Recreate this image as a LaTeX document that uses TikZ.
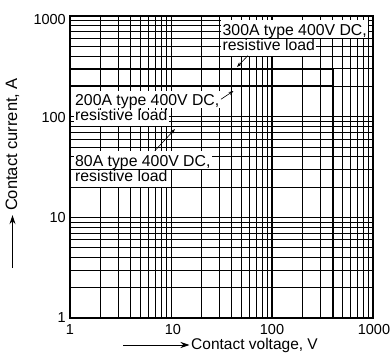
\documentclass[tikz,border=0pt]{standalone}
\usepackage{fontspec}
\setmainfont{Liberation Sans}
\usetikzlibrary{arrows.meta}

\begin{document}
\begin{tikzpicture}[x=1pt,y=-1pt,
    gridline/.style={line width=0.7pt},
    heavy/.style={line width=1.8pt},
    curve/.style={line width=1.8pt},
    tag/.style={fill=white,anchor=base west,inner xsep=1.5pt,inner ysep=1.5pt,font=\fontsize{15.8}{15.8}\selectfont},
    tagtop/.style={tag,text height=14pt,text depth=0.5pt},
    tagbot/.style={tag,text height=10pt,text depth=3.5pt},
    tick/.style={inner sep=0pt,font=\fontsize{14.5}{14.5}\selectfont},
    axlabel/.style={inner sep=0pt},
    lead/.style={-{Stealth[length=5pt,width=3.5pt]},line width=0.6pt},
    axarrow/.style={-{Stealth[length=9pt,width=6pt]},line width=0.9pt}]

  \useasboundingbox (0,0) rectangle (392,356);

  % log grid, one decade = 101pt
  \begin{scope}[shift={(70,318)},x=101pt,y=100.67pt]
    \foreach \d in {0,1,2}
      \foreach \m in {1,...,9} {
        \draw[gridline] ({\d+log10(\m)},0) -- ({\d+log10(\m)},3);
        \draw[gridline] (0,{\d+log10(\m)}) -- (3,{\d+log10(\m)});
      }
    \draw[heavy] (2,0) -- (2,3);
    \draw[heavy] (0,0) rectangle (3,3);

    % limit curves
    \draw[curve] (0,{log10(300)}) -| ({log10(400)},0);
    \draw[curve] (0,{log10(200)}) -| ({log10(400)},0);
    \draw[curve] (0,{log10(80)}) -| ({log10(400)},0);
  \end{scope}

  \node[tick,anchor=east] (y1) at (66,318) {1};
  \node[tick,anchor=east] (y10) at (66,218) {10};
  \node[tick,anchor=east] (y100) at (66,118) {100};
  \node[tick,anchor=east] (y1000) at (66,20) {1000};
  \node[tick] (x1) at (70,330) {1};
  \node[tick] (x10) at (173,330) {10};
  \node[tick] (x100) at (272,330) {100};
  \node[tick] (x1000) at (374,330) {1000};

  \node[tagbot] (t300b) at (221,50.5) {resistive load};
  \node[tagtop] (t300a) at (221,35.5) {300A type 400V DC,};
  \node[tagbot] (t200b) at (73.5,121) {resistive load};
  \node[tagtop] (t200a) at (73.5,106) {200A type 400V DC,};
  \node[tagbot] (t80b) at (73.5,181.5) {resistive load};
  \node[tagtop] (t80a) at (73.5,166.5) {80A type 400V DC,};

  \coordinate (hit300) at (237,67);
  \coordinate (hit200) at (233.5,91);
  \coordinate (hit80) at (175,129);

  \path[lead]
    ([xshift=-21pt]t300b.south) edge (hit300)
    (t200a.east) edge (hit200)
    ([xshift=12pt]t80a.north) edge (hit80);

  % axis titles
  \node[axlabel,anchor=west,font=\fontsize{15.5}{15.5}\selectfont] (xlab) at (191,345) {Contact voltage, V};
  \node[axlabel,rotate=90,font=\fontsize{16.5}{16.5}\selectfont] (ylab) at (12.5,144.5) {Contact current, A};
  \coordinate (xtail) at (123,345);
  \coordinate (ytail) at (12.5,268);

  \path[axarrow]
    (xtail) edge[shorten >=1.5pt] (xlab.west)
    (ytail) edge[shorten >=4pt] (ylab.west);
\end{tikzpicture}
\end{document}
